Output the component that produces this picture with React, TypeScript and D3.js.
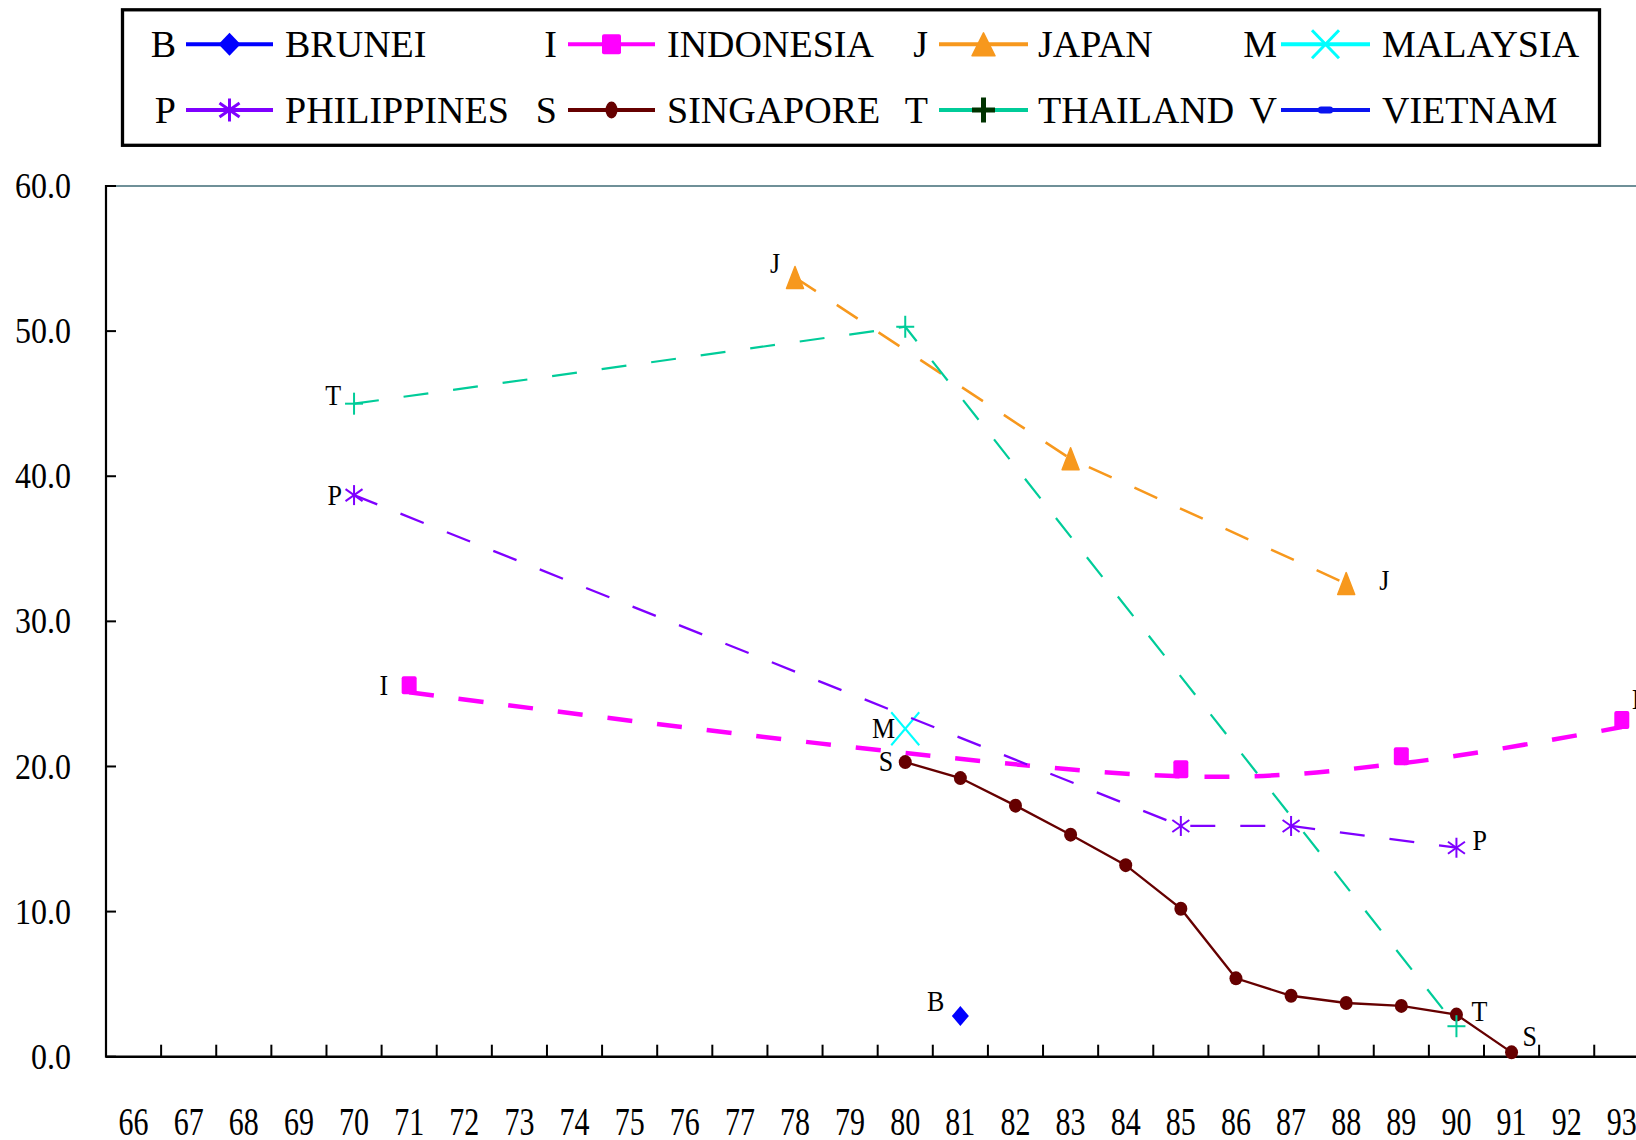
import React from 'react';
import * as d3 from 'd3';

// ---------- data ----------
const years = ['66','67','68','69','70','71','72','73','74','75','76','77','78','79','80','81','82','83','84','85','86','87','88','89','90','91','92','93'];
const yTicks = [0, 10, 20, 30, 40, 50, 60];

const bruneiData = [{ year: '81', value: 2.8 }];
const indonesiaData = [
  { year: '71', value: 25.6 }, { year: '85', value: 19.8 }, { year: '89', value: 20.7 }, { year: '93', value: 23.2 },
];
const japanData = [{ year: '78', value: 53.7 }, { year: '83', value: 41.2 }, { year: '88', value: 32.6 }];
const malaysiaData = [{ year: '80', value: 22.6 }];
const philippinesData = [
  { year: '70', value: 38.7 }, { year: '85', value: 15.9 }, { year: '87', value: 15.9 }, { year: '90', value: 14.4 },
];
const singaporeData = [
  { year: '80', value: 20.3 }, { year: '81', value: 19.2 }, { year: '82', value: 17.3 }, { year: '83', value: 15.3 },
  { year: '84', value: 13.2 }, { year: '85', value: 10.2 }, { year: '86', value: 5.4 }, { year: '87', value: 4.2 },
  { year: '88', value: 3.7 }, { year: '89', value: 3.5 }, { year: '90', value: 2.9 }, { year: '91', value: 0.3 },
];
const thailandData = [{ year: '70', value: 45.0 }, { year: '80', value: 50.3 }, { year: '90', value: 2.1 }];
const vietnamData: { year: string; value: number }[] = [];

const seriesNames = ['BRUNEI', 'INDONESIA', 'JAPAN', 'MALAYSIA', 'PHILIPPINES', 'SINGAPORE', 'THAILAND', 'VIETNAM'];
const seriesLetters = ['B', 'I', 'J', 'M', 'P', 'S', 'T', 'V'];

// ---------- styles ----------
type MarkerType = 'diamond' | 'square' | 'triangle' | 'x' | 'asterisk' | 'circle' | 'plus' | 'dash';
interface Style {
  color: string; marker: MarkerType; width: number; dashed: boolean; smooth?: boolean; lineDy?: number;
  legendMarkerColor?: string; mw: number; mh: number; lw: number; lh: number;
}
const styles: Style[] = [
  { color: '#0000FF', marker: 'diamond', width: 2.2, dashed: false, mw: 17, mh: 20, lw: 22, lh: 23 },
  { color: '#FF00FF', marker: 'square', width: 4.5, dashed: true, smooth: true, lineDy: 7, mw: 15, mh: 18, lw: 19, lh: 20 },
  { color: '#F7981D', marker: 'triangle', width: 2.5, dashed: true, mw: 17, mh: 22, lw: 23, lh: 23 },
  { color: '#00FFFF', marker: 'x', width: 2.2, dashed: true, mw: 28, mh: 33, lw: 27, lh: 28 },
  { color: '#7F00FF', marker: 'asterisk', width: 2.3, dashed: true, mw: 17, mh: 20, lw: 20, lh: 23 },
  { color: '#660000', marker: 'circle', width: 2.3, dashed: false, mw: 13, mh: 14, lw: 12, lh: 17 },
  { color: '#00CC99', marker: 'plus', width: 2.2, dashed: true, legendMarkerColor: '#003300', mw: 18, mh: 22, lw: 23, lh: 25 },
  { color: '#0A14F0', marker: 'dash', width: 2.2, dashed: false, mw: 15, mh: 6, lw: 15, lh: 7 },
];
const seriesData = [bruneiData, indonesiaData, japanData, malaysiaData, philippinesData, singaporeData, thailandData, vietnamData];

// end-label placement (style): [left dx, left dy, right dx, right dy]
const labelPlacement: Record<string, number[]> = {
  B: [-16, -5, 0, 0], I: [-21, 10, 10, -11], J: [-15, -4, 33, 6], M: [-10, 9, 0, 0],
  P: [-12, 10, 16, 2], S: [-12, 9, 11, -6], T: [-13, 1, 15, -5], V: [-12, 9, 12, 0],
};

const FONT = '"Liberation Serif", "Times New Roman", serif';
const W = 1636, H = 1140;
const X0 = 106, BAND = 55.12;
const Y_BOTTOM = 1056.7, Y_TOP = 186;

function Marker({ type, x, y, w, h, color, sw = 2 }: { type: MarkerType; x: number; y: number; w: number; h: number; color: string; sw?: number }) {
  const hw = w / 2, hh = h / 2;
  switch (type) {
    case 'diamond':
      return <path d={`M${x},${y - hh}L${x + hw},${y}L${x},${y + hh}L${x - hw},${y}Z`} fill={color} />;
    case 'square':
      return <rect x={x - hw} y={y - hh} width={w} height={h} rx={2} fill={color} />;
    case 'triangle':
      return <path d={`M${x},${y - hh}L${x + hw},${y + hh}L${x - hw},${y + hh}Z`} fill={color} stroke={color} strokeWidth={1.5} strokeLinejoin="round" />;
    case 'x':
      return (
        <g stroke={color} strokeWidth={sw}>
          <line x1={x - hw} y1={y - hh} x2={x + hw} y2={y + hh} />
          <line x1={x - hw} y1={y + hh} x2={x + hw} y2={y - hh} />
        </g>
      );
    case 'asterisk':
      return (
        <g stroke={color} strokeWidth={sw}>
          <line x1={x} y1={y - hh} x2={x} y2={y + hh} />
          <line x1={x - hw} y1={y - hh * 0.6} x2={x + hw} y2={y + hh * 0.6} />
          <line x1={x - hw} y1={y + hh * 0.6} x2={x + hw} y2={y - hh * 0.6} />
        </g>
      );
    case 'circle':
      return <ellipse cx={x} cy={y} rx={hw} ry={hh} fill={color} />;
    case 'plus':
      return (
        <g stroke={color} strokeWidth={sw}>
          <line x1={x} y1={y - hh} x2={x} y2={y + hh} />
          <line x1={x - hw} y1={y} x2={x + hw} y2={y} />
        </g>
      );
    case 'dash':
      return <rect x={x - hw} y={y - hh} width={w} height={h} rx={3} fill={color} />;
  }
  return null;
}

export default function App() {
  const x = d3.scaleBand<string>().domain(years).range([X0, X0 + BAND * years.length]).padding(0);
  const y = d3.scaleLinear().domain([0, 60]).range([Y_BOTTOM, Y_TOP]);
  const cx = (yr: string) => (x(yr) as number) + x.bandwidth() / 2;

  const legendCols = [
    { letterEnd: 176, lx1: 186, lx2: 273, text: 285 },
    { letterEnd: 557, lx1: 568, lx2: 655, text: 667 },
    { letterEnd: 928, lx1: 939, lx2: 1028, text: 1038 },
    { letterEnd: 1277, lx1: 1281, lx2: 1370, text: 1382 },
  ];
  const legendRows = [{ line: 44.3, base: 57.3 }, { line: 110, base: 122.7 }];

  return (
    <svg width={W} height={H} style={{ position: 'fixed', left: 0, top: 0, background: '#fff' }} fontFamily={FONT}>
      <rect x={0} y={0} width={W} height={H} fill="#fff" />

      {/* legend */}
      <rect x={122.5} y={9.8} width={1477} height={135.5} fill="#fff" stroke="#000" strokeWidth={3.3} />
      {seriesNames.map((name, i) => {
        const col = legendCols[i % 4];
        const row = legendRows[Math.floor(i / 4)];
        const st = styles[i];
        const mx = (col.lx1 + col.lx2) / 2;
        return (
          <g key={name}>
            <text x={col.letterEnd} y={row.base} textAnchor="end" fontSize={38} fill="#000">{seriesLetters[i]}</text>
            <line x1={col.lx1} x2={col.lx2} y1={row.line} y2={row.line} stroke={st.color} strokeWidth={4} />
            <Marker type={st.marker} x={mx} y={row.line} w={st.lw} h={st.lh} color={st.legendMarkerColor || st.color} sw={st.marker === 'plus' ? 5 : 3} />
            <text x={col.text} y={row.base} fontSize={38} fill="#000">{name}</text>
          </g>
        );
      })}

      {/* top gridline */}
      <line x1={X0} x2={W + 20} y1={y(60)} y2={y(60)} stroke="#6F9098" strokeWidth={2} />

      {/* y axis */}
      <line x1={X0} x2={X0} y1={y(60) - 1} y2={Y_BOTTOM + 1} stroke="#000" strokeWidth={2.2} />
      {yTicks.map((t) => (
        <g key={t}>
          <line x1={X0} x2={X0 + 10} y1={y(t)} y2={y(t)} stroke="#000" strokeWidth={2} />
          <g transform={`translate(71, ${y(t)}) scale(1, 1.12)`}>
            <text x={0} y={10.8} textAnchor="end" fontSize={32} fill="#000">{t.toFixed(1)}</text>
          </g>
        </g>
      ))}

      {/* x axis */}
      <line x1={X0} x2={W + 20} y1={Y_BOTTOM} y2={Y_BOTTOM} stroke="#000" strokeWidth={2.5} />
      {years.map((yr) => (
        <g key={yr}>
          <line x1={(x(yr) as number) + x.bandwidth()} x2={(x(yr) as number) + x.bandwidth()} y1={Y_BOTTOM} y2={Y_BOTTOM - 12} stroke="#000" strokeWidth={2} />
          <g transform={`translate(${cx(yr)}, 1135) scale(1, 1.3)`}>
            <text x={0} y={0} textAnchor="middle" fontSize={30} fill="#000">{yr}</text>
          </g>
        </g>
      ))}

      {/* series */}
      {seriesData.map((data, i) => {
        if (!data.length) return null;
        const st = styles[i];
        const line = d3.line<{ year: string; value: number }>()
          .x((d) => cx(d.year))
          .y((d) => y(d.value))
          .curve(st.smooth ? d3.curveCatmullRom.alpha(0.5) : d3.curveLinear);
        const letter = seriesLetters[i];
        const lp = labelPlacement[letter];
        const first = data[0];
        const last = data[data.length - 1];
        return (
          <g key={i}>
            {data.length > 1 && (
              <path d={line(data) || ''} fill="none" stroke={st.color} strokeWidth={st.width}
                strokeDasharray={st.dashed ? '25 25' : undefined}
                transform={st.lineDy ? `translate(0, ${st.lineDy})` : undefined} />
            )}
            {data.map((d) => (
              <Marker key={d.year} type={st.marker} x={cx(d.year)} y={y(d.value)} w={st.mw} h={st.mh} color={st.color} />
            ))}
            <g transform={`translate(${cx(first.year) + lp[0]}, ${y(first.value) + lp[1]}) scale(1, 1.1)`}>
              <text x={0} y={0} textAnchor="end" fontSize={26} fill="#000">{letter}</text>
            </g>
            {data.length > 1 && (
              <g transform={`translate(${cx(last.year) + lp[2]}, ${y(last.value) + lp[3]}) scale(1, 1.1)`}>
                <text x={0} y={0} textAnchor="start" fontSize={26} fill="#000">{letter}</text>
              </g>
            )}
          </g>
        );
      })}
    </svg>
  );
}
